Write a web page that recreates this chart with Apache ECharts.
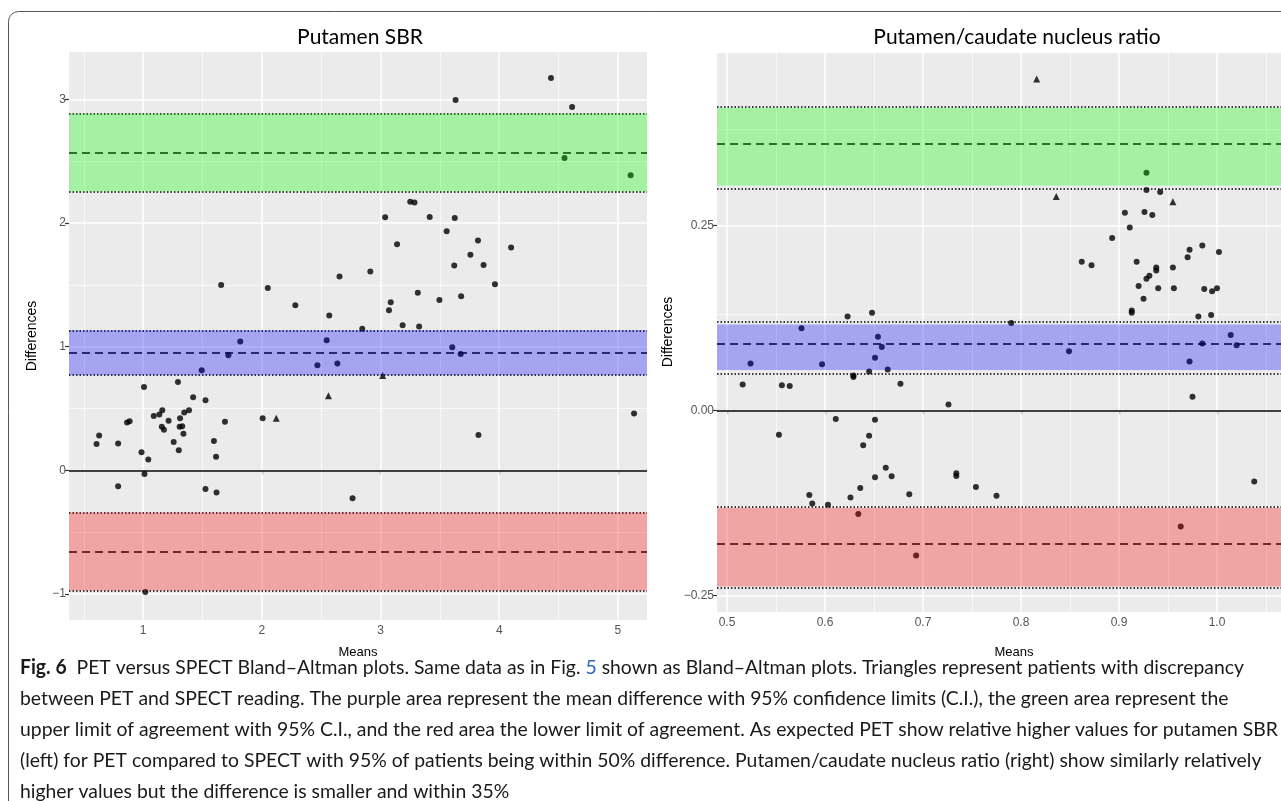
<!DOCTYPE html>
<html>
<head>
<meta charset="utf-8">
<script src="https://cdn.jsdelivr.net/npm/echarts@6/dist/echarts.min.js"></script>
<style>
html, body { margin: 0; padding: 0; background: #fff; }
#main { width: 1281px; height: 801px; }
</style>
</head>
<body>
<div id="main"></div>
<script>
// Putamen SBR: [mean, difference]
var sbrCircles = [
  [4.436,3.172],[3.632,2.995],[4.614,2.938],[4.55,2.525],[5.107,2.386],
  [3.25,2.172],[3.286,2.166],[3.039,2.046],[3.414,2.048],[3.625,2.040],
  [3.557,1.933],[3.139,1.828],[3.821,1.858],[4.1,1.802],[3.757,1.743],
  [3.621,1.657],[3.868,1.66],[2.914,1.609],[2.654,1.568],[1.657,1.499],
  [3.964,1.504],[2.05,1.475],[3.314,1.437],[3.679,1.408],[2.282,1.335],
  [3.086,1.359],[3.496,1.378],[3.071,1.295],[2.568,1.252],[3.186,1.174],
  [3.325,1.164],[2.846,1.145],
  [1.818,1.043],[2.546,1.053],[3.604,0.995],[3.675,0.941],[1.718,0.930],
  [2.468,0.850],[2.636,0.864],[1.493,0.810],[2.007,0.422],
  [1.293,0.714],[1.007,0.674],[1.421,0.591],[1.525,0.567],[1.386,0.487],
  [1.346,0.468],[1.161,0.487],[1.089,0.439],[1.136,0.452],[1.311,0.422],
  [1.214,0.401],[1.689,0.393],[0.886,0.398],[0.864,0.388],[1.157,0.353],
  [1.175,0.329],[1.307,0.353],[1.329,0.356],[1.339,0.297],[0.629,0.281],
  [0.607,0.214],[0.789,0.217],[1.257,0.230],[1.596,0.238],[1.3,0.163],
  [0.986,0.147],[1.614,0.110],[1.043,0.088],[3.825,0.286],[5.136,0.460],
  [1.011,-0.029],[0.789,-0.128],[1.525,-0.150],[1.618,-0.179],[2.764,-0.225],
  [1.018,-0.984]
];
var sbrTriangles = [[3.018,0.767],[2.561,0.604],[2.121,0.422]];
// [lower CI, estimate, upper CI]
var sbrUpperLoA = [2.255, 2.568, 2.885];
var sbrMeanDiff = [0.770, 0.955, 1.134];
var sbrLowerLoA = [-0.971, -0.655, -0.340];
var sbrXTicks = [1, 2, 3, 4, 5];
var sbrYTicks = [-1, 0, 1, 2, 3];

// Putamen/caudate nucleus ratio: [mean, difference]
var pcCircles = [
  [0.928,0.321],[0.928,0.298],[0.942,0.295],[0.906,0.267],[0.926,0.268],
  [0.934,0.264],[0.911,0.247],[0.893,0.233],[0.985,0.223],[0.972,0.217],
  [1.002,0.214],[0.970,0.207],[0.862,0.201],[0.872,0.196],[0.918,0.201],
  [0.955,0.193],[0.938,0.193],[0.938,0.189],[0.931,0.182],[0.928,0.178],
  [0.920,0.168],[0.940,0.165],[0.956,0.165],[0.987,0.164],[0.995,0.161],
  [1.000,0.165],[0.925,0.151],[0.913,0.135],[0.913,0.132],[0.981,0.127],
  [0.994,0.129],[0.623,0.127],[0.648,0.132],[0.790,0.118],[0.576,0.111],
  [0.654,0.0995],[0.658,0.0856],[0.651,0.0712],[0.524,0.0635],[0.597,0.0622],
  [0.849,0.080],[1.014,0.102],[1.020,0.088],[0.985,0.0905],[0.972,0.066],
  [0.664,0.0554],[0.645,0.0527],[0.629,0.0473],[0.629,0.045],[0.516,0.035],
  [0.556,0.034],[0.564,0.033],[0.677,0.036],[0.726,0.0081],[0.975,0.0185],
  [0.611,-0.0117],[0.651,-0.0126],[0.553,-0.0329],[0.645,-0.0342],[0.639,-0.0473],
  [0.662,-0.0775],[0.651,-0.0905],[0.668,-0.0892],[0.734,-0.0851],[0.734,-0.0887],
  [0.636,-0.105],[0.754,-0.1036],[1.038,-0.096],[0.584,-0.1144],[0.686,-0.1135],
  [0.775,-0.1153],[0.626,-0.1176],[0.587,-0.126],[0.603,-0.1275],[0.634,-0.140],
  [0.963,-0.157],[0.693,-0.196]
];
var pcTriangles = [[0.816,0.448],[0.836,0.289],[0.955,0.282]];
var pcUpperLoA = [0.304, 0.356, 0.409];
var pcMeanDiff = [0.0545, 0.0856, 0.116];
var pcLowerLoA = [-0.238, -0.185, -0.132];
var pcXTicks = [0.5, 0.6, 0.7, 0.8, 0.9, 1.0, 1.1];
var pcYTicks = [-0.25, 0, 0.25, 0.5];

var panels = [
  { grid: {left: 69, top: 52, width: 578, height: 568},
    x: [0.375, 5.245], y: [-1.21, 3.383],
    xTicks: sbrXTicks, yTicks: sbrYTicks,
    xFmt: function (v) { return String(v); },
    yFmt: function (v) { return (v < 0 ? '\u2212' : '') + Math.abs(v); },
    circles: sbrCircles, triangles: sbrTriangles,
    bands: [sbrUpperLoA, sbrMeanDiff, sbrLowerLoA] },
  { grid: {left: 717, top: 53, width: 598, height: 559},
    x: [0.4898, 1.1], y: [-0.2725, 0.483],
    xTicks: pcXTicks, yTicks: pcYTicks,
    xFmt: function (v) { return v.toFixed(1); },
    yFmt: function (v) { return (v < 0 ? '\u2212' : '') + Math.abs(v).toFixed(2); },
    circles: pcCircles, triangles: pcTriangles,
    bands: [pcUpperLoA, pcMeanDiff, pcLowerLoA] }
];
var bandColors = ['rgba(0,255,0,0.3)', 'rgba(0,0,255,0.3)', 'rgba(255,0,0,0.3)'];

function inRange(vals, r) {
  return vals.filter(function (v) { return v >= r[0] - 1e-9 && v <= r[1] + 1e-9; });
}
function halves(ticks) {
  var step = ticks[1] - ticks[0];
  var out = [ticks[0] - step / 2];
  ticks.forEach(function (t) { out.push(+(t + step / 2).toFixed(6)); });
  return out;
}

var grids = [], xAxes = [], yAxes = [], series = [];
panels.forEach(function (p, i) {
  grids.push(Object.assign({show: true, backgroundColor: '#ebebeb', borderWidth: 0,
    containLabel: false, outerBoundsMode: 'none'}, p.grid));
  var tickX = inRange(p.xTicks, p.x), tickY = inRange(p.yTicks, p.y);
  var labelStyle = {color: '#555', fontSize: 12, fontFamily: 'Liberation Sans'};
  xAxes.push({type: 'value', gridIndex: i, min: p.x[0], max: p.x[1],
    axisLine: {show: false}, splitLine: {show: false},
    axisTick: {show: true, customValues: tickX, length: 4, lineStyle: {color: '#333', width: 1.2}},
    axisLabel: Object.assign({customValues: tickX, formatter: p.xFmt, margin: 5}, labelStyle)});
  yAxes.push({type: 'value', gridIndex: i, min: p.y[0], max: p.y[1],
    axisLine: {show: false}, splitLine: {show: false},
    axisTick: {show: true, customValues: tickY, length: 4, lineStyle: {color: '#333', width: 1.2}},
    axisLabel: Object.assign({customValues: tickY, formatter: p.yFmt, margin: 3}, labelStyle)});

  // background grid lines
  var gl = [];
  inRange(halves(p.xTicks), p.x).forEach(function (v) { gl.push({xAxis: v, lineStyle: {color: '#fff', width: 0.7, type: 'solid'}}); });
  inRange(halves(p.yTicks), p.y).forEach(function (v) { gl.push({yAxis: v, lineStyle: {color: '#fff', width: 0.7, type: 'solid'}}); });
  tickX.forEach(function (v) { gl.push({xAxis: v, lineStyle: {color: '#fff', width: 1.5, type: 'solid'}}); });
  tickY.forEach(function (v) { gl.push({yAxis: v, lineStyle: {color: '#fff', width: 1.5, type: 'solid'}}); });
  series.push({type: 'scatter', xAxisIndex: i, yAxisIndex: i, data: [], silent: true,
    markLine: {z: 1, silent: true, symbol: ['none', 'none'], label: {show: false}, animation: false, data: gl}});

  // limit lines (under the translucent bands) and the zero line
  var ll = [{yAxis: 0, lineStyle: {color: '#000', width: 1.5, type: 'solid'}}];
  p.bands.forEach(function (b) {
    ll.push({yAxis: b[0], lineStyle: {color: '#000', width: 1.6, type: [1.5, 2]}});
    ll.push({yAxis: b[1], lineStyle: {color: '#000', width: 1.5, type: [8, 5]}});
    ll.push({yAxis: b[2], lineStyle: {color: '#000', width: 1.6, type: [1.5, 2]}});
  });
  var areas = p.bands.map(function (b, k) {
    return [{yAxis: b[0], itemStyle: {color: bandColors[k]}}, {yAxis: b[2]}];
  });
  series.push({type: 'scatter', xAxisIndex: i, yAxisIndex: i, data: [], silent: true,
    markLine: {z: 2, silent: true, symbol: ['none', 'none'], label: {show: false}, animation: false, data: ll},
    markArea: {z: 3, silent: true, label: {show: false}, animation: false, data: areas}});

  series.push({type: 'scatter', xAxisIndex: i, yAxisIndex: i, z: 2, symbol: 'circle', symbolSize: 6,
    itemStyle: {color: '#000'}, data: p.circles});
  series.push({type: 'scatter', xAxisIndex: i, yAxisIndex: i, z: 2, symbol: 'triangle', symbolSize: 7,
    itemStyle: {color: '#000'}, data: p.triangles});
});

// caption
var captionLines = [
  '{b|Fig. 6}  PET versus SPECT Bland\u2013Altman plots. Same data as in Fig. {l|5} shown as Bland\u2013Altman plots. Triangles represent patients with discrepancy',
  'between PET and SPECT reading. The purple area represent the mean difference with 95% confidence limits (C.I.), the green area represent the',
  'upper limit of agreement with 95% C.I., and the red area the lower limit of agreement. As expected PET show relative higher values for putamen SBR',
  '(left) for PET compared to SPECT with 95% of patients being within 50% difference. Putamen/caudate nucleus ratio (right) show similarly relatively',
  'higher values but the difference is smaller and within 35%'
];
var capFont = 'Lato';
var capSize = 20;
var ctx = document.createElement('canvas').getContext('2d');
ctx.font = capSize + 'px ' + capFont;
var capScale = 1258 / ctx.measureText(captionLines[2]).width;

var graphics = [
  {type: 'rect', shape: {x: 8.5, y: 11.5, width: 1400, height: 900, r: 10},
    style: {fill: 'none', stroke: '#555', lineWidth: 1}, silent: true},
  {type: 'text', x: 360, y: 37, style: {text: 'Putamen SBR', font: '21px Lato', fill: '#000', align: 'center', verticalAlign: 'middle'}},
  {type: 'text', x: 1017, y: 37, style: {text: 'Putamen/caudate nucleus ratio', font: '21px Lato', fill: '#000', align: 'center', verticalAlign: 'middle'}},
  {type: 'text', x: 358, y: 652, style: {text: 'Means', font: '13px Liberation Sans', fill: '#000', align: 'center', verticalAlign: 'middle'}},
  {type: 'text', x: 1014, y: 652, style: {text: 'Means', font: '13px Liberation Sans', fill: '#000', align: 'center', verticalAlign: 'middle'}},
  {type: 'text', x: 32, y: 336, rotation: Math.PI / 2, style: {text: 'Differences', font: '14px Liberation Sans', fill: '#000', align: 'center', verticalAlign: 'middle'}},
  {type: 'text', x: 668, y: 332, rotation: Math.PI / 2, style: {text: 'Differences', font: '14px Liberation Sans', fill: '#000', align: 'center', verticalAlign: 'middle'}}
];
captionLines.forEach(function (line, k) {
  graphics.push({type: 'text', x: 20, y: 668 + k * 31, scaleX: capScale, silent: true,
    style: {text: line, fontFamily: capFont, fontSize: capSize, fill: '#1a1a1a', align: 'left', verticalAlign: 'middle',
      rich: {b: {fontFamily: capFont, fontSize: capSize, fontWeight: 'bold', fill: '#1a1a1a'},
             l: {fontFamily: capFont, fontSize: capSize, fill: '#2b64c5'}}}});
});

var chart = echarts.init(document.getElementById('main'));
chart.setOption({
  animation: false,
  backgroundColor: '#fff',
  grid: grids,
  xAxis: xAxes,
  yAxis: yAxes,
  series: series,
  graphic: graphics
});
</script>
</body>
</html>
